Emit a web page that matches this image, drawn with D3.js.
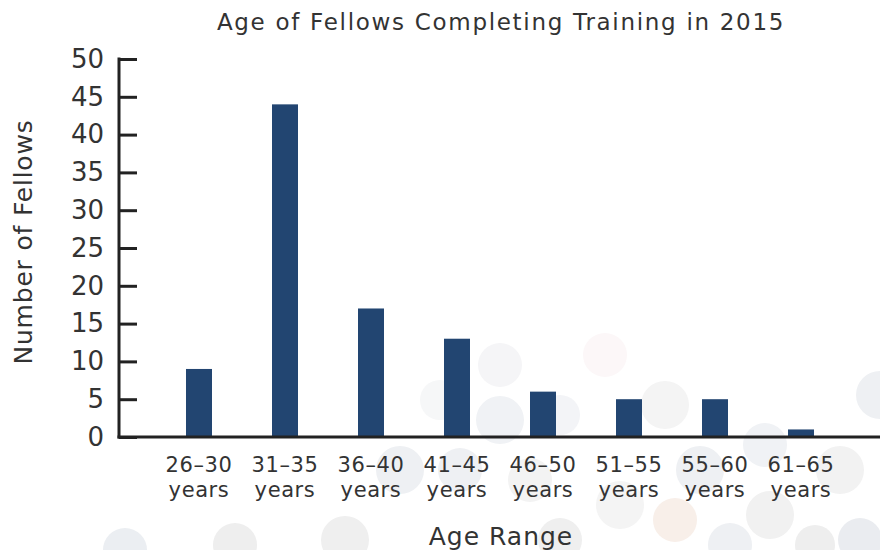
<!DOCTYPE html>
<html>
<head>
<meta charset="utf-8">
<script src="https://cdn.jsdelivr.net/npm/d3@7"></script>
<style>
  html, body { margin: 0; padding: 0; background: #fff; }
  svg { display: block; }
  text { font-family: "DejaVu Sans", Lato, sans-serif; fill: #333; }
</style>
</head>
<body>
<svg id="chart" width="880" height="550"></svg>
<script>
const categories = ["26–30", "31–35", "36–40", "41–45", "46–50", "51–55", "55–60", "61–65"];
const categorySub = "years";
const values = [9, 44, 17, 13, 6, 5, 5, 1];
const yTicks = [0, 5, 10, 15, 20, 25, 30, 35, 40, 45, 50];
const title = "Age of Fellows Completing Training in 2015";
const xTitle = "Age Range";
const yTitle = "Number of Fellows";

const svg = d3.select("#chart");
const W = 880, H = 550;
const axisX = 119, plotTop = 59, plotBottom = 437;
const FONT = '"DejaVu Sans", Lato, sans-serif';

// decorative faint background circles
const deco = [
  [500, 365, 22, "#f5f5f7"], [500, 420, 24, "#f0f2f5"], [560, 415, 20, "#f3f4f7"],
  [605, 355, 22, "#fcf7f8"], [665, 405, 24, "#f4f4f4"], [700, 470, 24, "#eef0f3"],
  [765, 445, 22, "#f0f2f5"], [770, 515, 24, "#f1f1f1"], [840, 470, 24, "#f2f2f2"],
  [880, 395, 24, "#eef0f3"], [860, 540, 22, "#eaecf0"], [620, 505, 24, "#f4f4f4"],
  [675, 520, 22, "#f8efe9"], [730, 545, 22, "#eef0f3"], [460, 470, 22, "#eef0f3"],
  [400, 470, 24, "#eef0f3"], [345, 540, 24, "#efefef"], [235, 545, 22, "#eeeeee"],
  [125, 550, 22, "#ebeef2"], [560, 540, 22, "#efefef"], [815, 545, 20, "#eeeeee"],
  [530, 480, 22, "#f3f3f3"], [440, 400, 20, "#f6f7f8"]
];
svg.append("g").selectAll("circle").data(deco).join("circle")
  .attr("cx", d => d[0]).attr("cy", d => d[1]).attr("r", d => d[2])
  .attr("fill", d => d[3]);

const x = d3.scaleBand().domain(categories).range([156, 844])
  .paddingInner(0.6977).paddingOuter(0.3488);
const y = d3.scaleLinear().domain([0, 50]).range([plotBottom, plotTop]);

// bars
svg.append("g").selectAll("rect").data(values).join("rect")
  .attr("x", (d, i) => x(categories[i]))
  .attr("y", d => y(d))
  .attr("width", x.bandwidth())
  .attr("height", d => y(0) - y(d))
  .attr("fill", "#224571");

// y axis
const yAxis = d3.axisLeft(y).tickValues(yTicks).tickSize(-18).tickPadding(15);
const gy = svg.append("g").attr("transform", `translate(${axisX},0)`).call(yAxis);
gy.select(".domain").remove();
gy.selectAll(".tick line").attr("stroke", "#222").attr("stroke-width", 3);
gy.selectAll(".tick text").style("font-size", "26px").attr("fill", "#333")
  .style("font-family", FONT);
gy.append("line").attr("x1", 0).attr("x2", 0).attr("y1", plotTop - 1.5).attr("y2", plotBottom + 1.5)
  .attr("stroke", "#222").attr("stroke-width", 3);

// x axis baseline
const xAxis = d3.axisBottom(x).tickSize(0).tickPadding(0);
const gx = svg.append("g").attr("transform", `translate(0,${plotBottom})`).call(xAxis);
gx.select(".domain").remove();
gx.append("line").attr("x1", axisX - 1.5).attr("x2", W).attr("y1", 0).attr("y2", 0)
  .attr("stroke", "#222").attr("stroke-width", 3);
gx.selectAll(".tick text").each(function(d) {
  const t = d3.select(this);
  t.text(null).attr("y", 0).attr("dy", null)
    .style("font-size", "21px").style("letter-spacing", "0.6px")
    .style("font-family", FONT).attr("fill", "#333");
  t.append("tspan").attr("x", 0).attr("y", 35).text(d);
  t.append("tspan").attr("x", 0).attr("y", 60).text(categorySub);
});

// titles
svg.append("text").attr("x", 501).attr("y", 30).attr("text-anchor", "middle")
  .style("font-size", "23px").style("letter-spacing", "1.7px").text(title);
svg.append("text").attr("x", 501).attr("y", 545).attr("text-anchor", "middle")
  .style("font-size", "25px").style("letter-spacing", "1px").text(xTitle);
svg.append("text").attr("transform", `translate(32,${(plotTop + plotBottom) / 2 - 6}) rotate(-90)`)
  .attr("text-anchor", "middle").style("font-size", "25px").style("letter-spacing", "0.8px").text(yTitle);
</script>
</body>
</html>
